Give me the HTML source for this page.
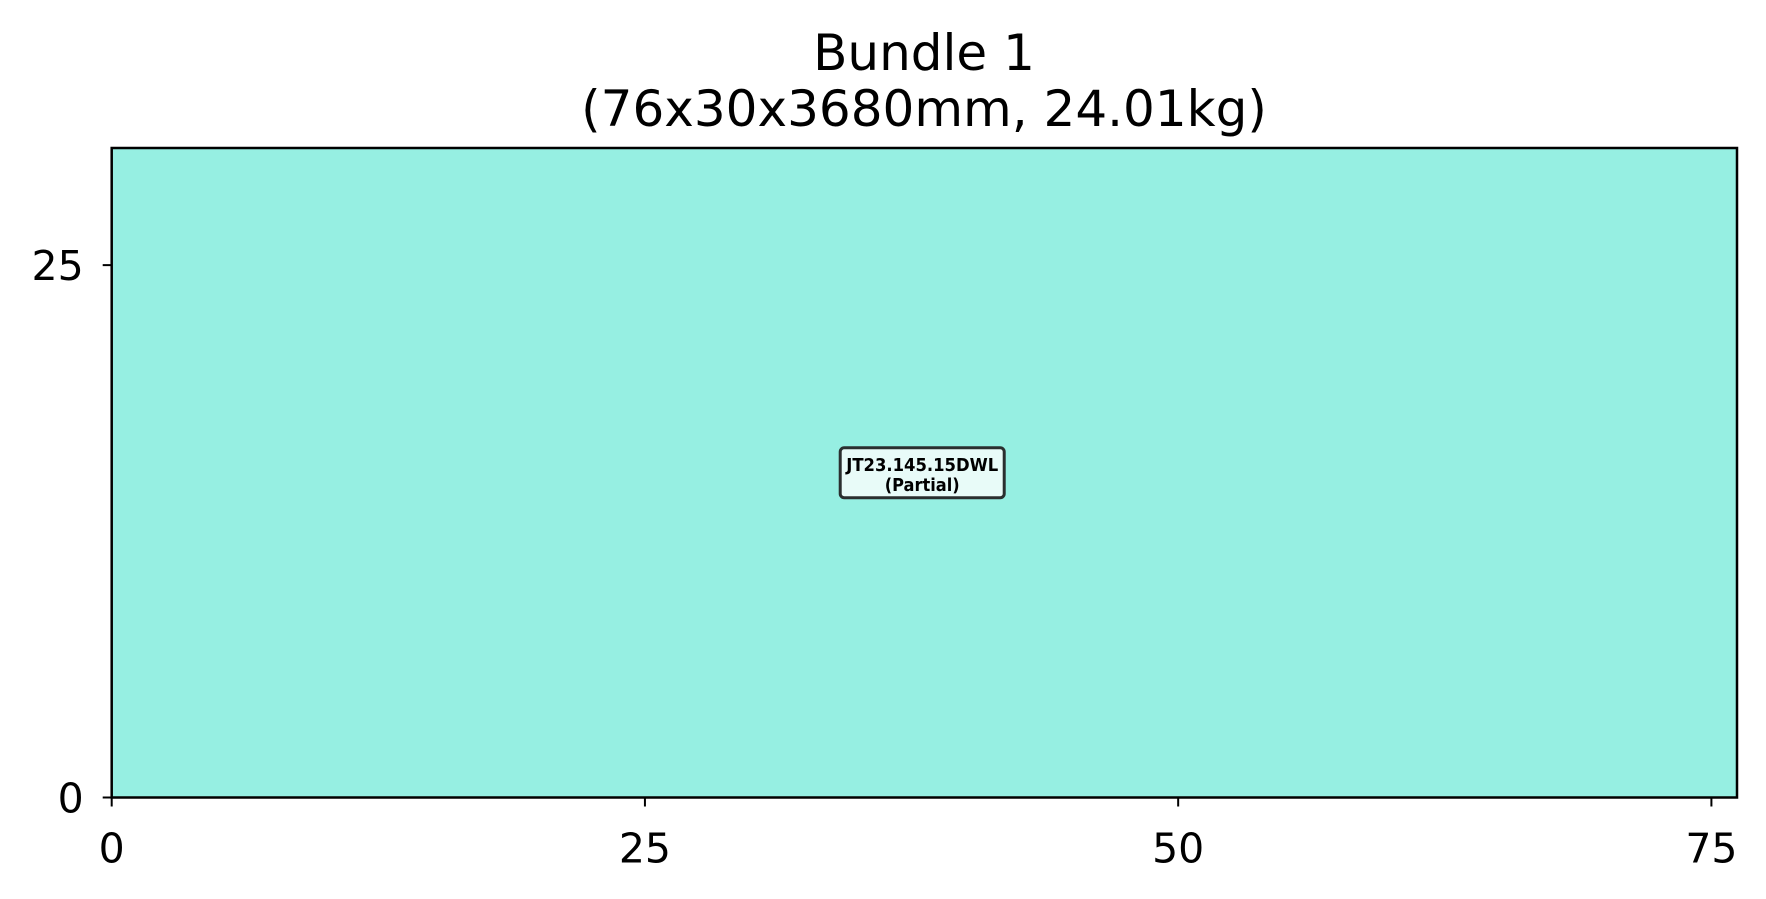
<!DOCTYPE html>
<html><head><meta charset="utf-8"><style>
body{margin:0;background:#fff;}
svg{display:block;font-family:"DejaVu Sans","Liberation Sans",sans-serif;}
</style></head><body>
<svg id="chart" width="1766" height="899">
<text x="924" y="70" font-size="50" text-anchor="middle">Bundle 1</text>
<text x="924" y="126" font-size="50" text-anchor="middle">(76x30x3680mm, 24.01kg)</text>
<g id="plot"></g>
</svg>
<script>
const xTicks=[0,25,50,75];
const yTicks=[0,25];
const pieceNames=["JT23.145.15DWL"];
const pieceNotes=["(Partial)"];
const pieceX=[0];
const pieceY=[0];
const pieceW=[76.2];
const pieceH=[30.5];
const xMax=76.2, yMax=30.5;
const L=111.7,R=1737,T=148,B=797.5;
const sx=v=>L+(v/xMax)*(R-L);
const sy=v=>B-(v/yMax)*(B-T);
const g=document.getElementById('plot');
const NS='http://www.w3.org/2000/svg';
function mk(t,a){const e=document.createElementNS(NS,t);for(const k in a)e.setAttribute(k,a[k]);g.appendChild(e);return e;}
pieceNames.forEach((n,i)=>{
  const r=mk('rect',{x:sx(pieceX[i]),y:sy(pieceY[i]+pieceH[i]),width:sx(pieceX[i]+pieceW[i])-sx(pieceX[i]),height:sy(pieceY[i])-sy(pieceY[i]+pieceH[i]),fill:'#96efe2'});
  
  
  const cx=sx(38), cy=sy(15.25);
  const b=mk('rect',{x:cx-82,y:cy-25,width:164,height:50,rx:4,fill:'#e8fbf8',stroke:'#2a2f2f','stroke-width':3});
  
  
  const t1=mk('text',{x:cx,y:cy-2,'font-size':18,'font-weight':'bold','text-anchor':'middle',textLength:152,lengthAdjust:'spacingAndGlyphs'});t1.textContent=n;
  
  
  const t2=mk('text',{x:cx,y:cy+18,'font-size':18,'font-weight':'bold','text-anchor':'middle',textLength:75,lengthAdjust:'spacingAndGlyphs'});t2.textContent=pieceNotes[i];
  
  
});
const f=mk('rect',{x:L,y:T,width:R-L,height:B-T,fill:'none',stroke:'#000','stroke-width':2.5});


xTicks.forEach(v=>{
  const l=mk('line',{x1:sx(v),x2:sx(v),y1:B,y2:B+9,stroke:'#000','stroke-width':2});
  
  
  const t=mk('text',{x:sx(v),y:B+65,'font-size':41,'text-anchor':'middle'});t.textContent=v;
  
  
});
yTicks.forEach(v=>{
  const l=mk('line',{x1:L-9,x2:L,y1:sy(v),y2:sy(v),stroke:'#000','stroke-width':2});
  
  
  const t=mk('text',{x:L-28,y:sy(v)+15,'font-size':41,'text-anchor':'end'});t.textContent=v;
  
  
});
</script>
</body></html>
